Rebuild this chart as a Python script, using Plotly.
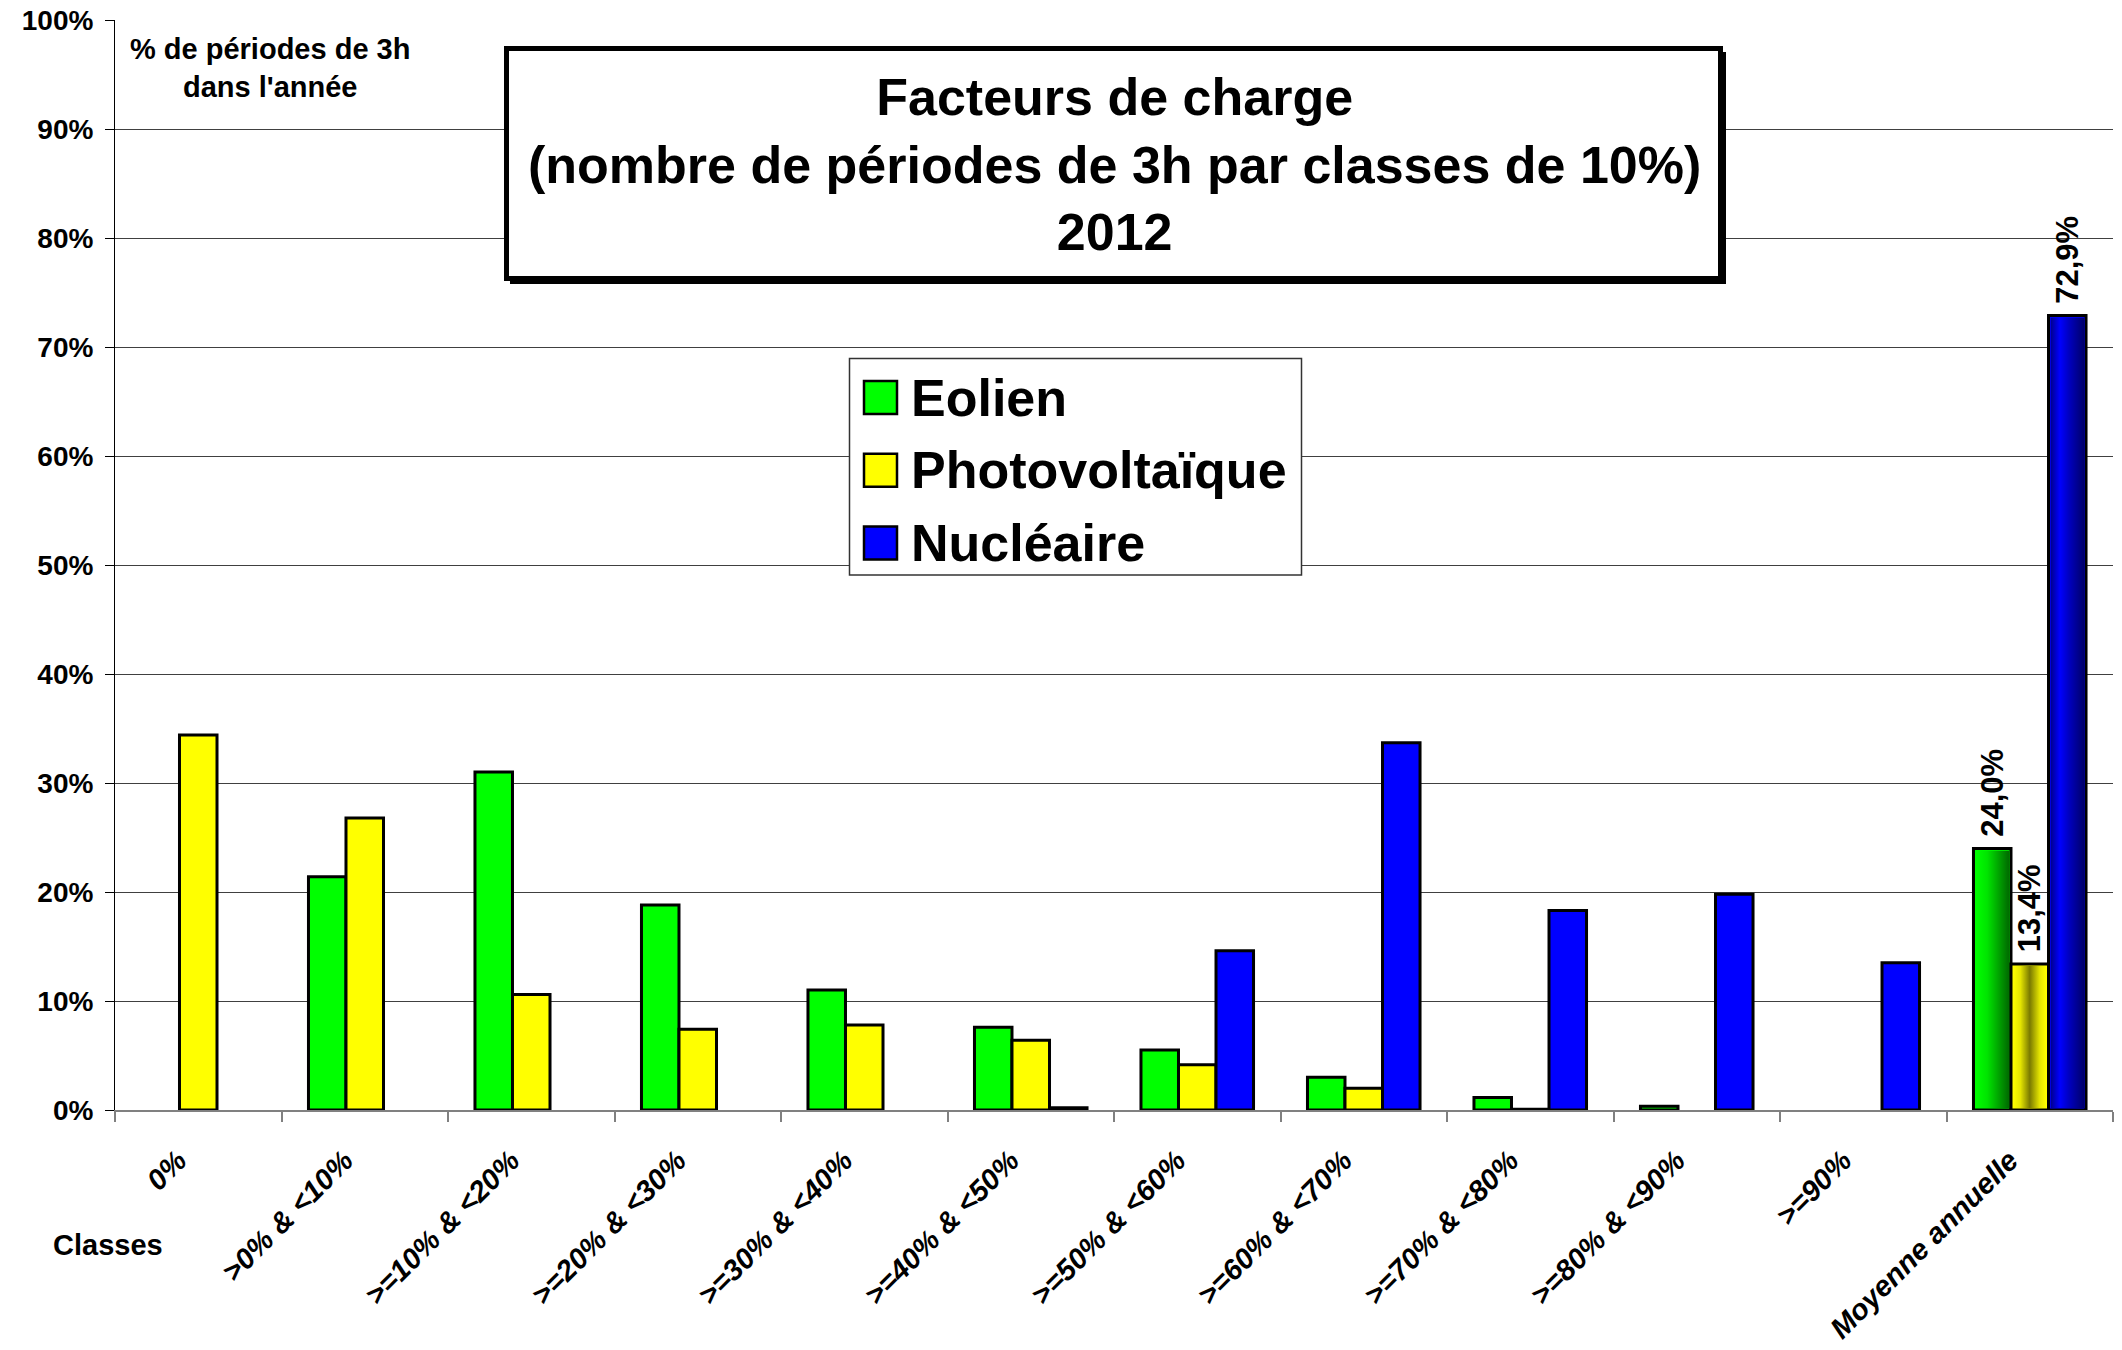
import base64
import plotly.graph_objects as go

# --- data -------------------------------------------------------------------
classes = ["0%", ">0% & <10%", ">=10% & <20%", ">=20% & <30%", ">=30% & <40%",
           ">=40% & <50%", ">=50% & <60%", ">=60% & <70%", ">=70% & <80%",
           ">=80% & <90%", ">=90%", "Moyenne annuelle"]
# None = no bar drawn for that class
eolien = [None, 21.4, 31.0, 18.8, 11.0, 7.6, 5.5, 3.0, 1.15, 0.35, None, 24.0]
photovoltaique = [34.4, 26.8, 10.6, 7.4, 7.8, 6.4, 4.15, 2.0, 0.08, None, None, 13.4]
nucleaire = [None, None, None, None, None, 0.2, 14.6, 33.7, 18.3, 19.8, 13.5, 72.9]
y_ticks = list(range(0, 101, 10))

series_names = ["Eolien", "Photovoltaïque", "Nucléaire"]
series_values = [eolien, photovoltaique, nucleaire]
series_colors = ["#00FF00", "#FFFF00", "#0000FF"]
# horizontal shading used on the annual-average bars
series_gradients = [
    [(0, "#00FF00"), (0.35, "#00E400"), (1, "#006A00")],
    [(0, "#FFFF00"), (0.22, "#E6E600"), (0.5, "#7A7A00"), (0.8, "#E6E600"), (1, "#FFFF00")],
    [(0, "#00008A"), (0.28, "#0000FF"), (0.55, "#0000C0"), (1, "#00006A")],
]

title_text = "Facteurs de charge<br>(nombre de périodes de 3h par classes de 10%)<br>2012"
unit_text = "% de périodes de 3h<br>dans l'année"

# --- geometry ---------------------------------------------------------------
W, H = 2122, 1350
ML, MR, MT, MB = 115, 9, 20, 240
PW, PH = W - ML - MR, H - MT - MB
BARGAP = 0.324
BAR_W = (1 - BARGAP) / 3
FONT = "Liberation Sans, Arial, sans-serif"


def px_x(px):
    return (px - ML) / PW


def px_y(py):
    return (H - MB - py) / PH


def pct_label(v):
    # leading no-break space keeps the rotated label clear of the bar top
    return "\u00a0" + f"{v:.1f}%".replace(".", ",")


def gradient_uri(stops):
    tags = "".join(f'<stop offset="{o}" stop-color="{c}"/>' for o, c in stops)
    svg = ('<svg xmlns="http://www.w3.org/2000/svg" width="100" height="100" '
           'viewBox="0 0 100 100" preserveAspectRatio="none"><defs>'
           f'<linearGradient id="g" x1="0" y1="0" x2="1" y2="0">{tags}</linearGradient>'
           '</defs><rect width="100" height="100" fill="url(#g)"/></svg>')
    return "data:image/svg+xml;base64," + base64.b64encode(svg.encode()).decode()


fig = go.Figure()
last = len(classes) - 1
for k, (name, vals, color) in enumerate(zip(series_names, series_values, series_colors)):
    fig.add_bar(
        x=classes, y=vals, name=name,
        width=BAR_W, offset=-1.5 * BAR_W + k * BAR_W,
        marker=dict(color=color, line=dict(color="black", width=3)),
        text=["" if i != last else pct_label(v) for i, v in enumerate(vals)],
        textposition="outside", textangle=-90, constraintext="none",
        textfont=dict(family=FONT, size=31, color="black", weight="bold"),
        cliponaxis=False, showlegend=False, hoverinfo="skip",
    )

# shaded fill of the annual-average bars, placed inside each bar outline
inset_x = 2.0 / (PW / len(classes))
inset_y = 2.0 / (PH / 100)
images = []
for k, (vals, stops) in enumerate(zip(series_values, series_gradients)):
    v = vals[last]
    left = last - 1.5 * BAR_W + k * BAR_W
    images.append(dict(
        source=gradient_uri(stops), xref="x", yref="y",
        x=left + inset_x, y=v - inset_y,
        sizex=BAR_W - 2 * inset_x, sizey=v - 2 * inset_y,
        xanchor="left", yanchor="top", sizing="stretch", layer="above",
    ))

shapes = []
annotations = []

# title box with drop shadow
shapes.append(dict(type="rect", xref="paper", yref="paper", layer="above",
                   x0=px_x(510), x1=px_x(1726), y0=px_y(284), y1=px_y(52),
                   fillcolor="black", line=dict(width=0)))
shapes.append(dict(type="rect", xref="paper", yref="paper", layer="above",
                   x0=px_x(506.5), x1=px_x(1720.5), y0=px_y(278.5), y1=px_y(48.5),
                   fillcolor="white", line=dict(color="black", width=5)))
annotations.append(dict(text=title_text, xref="paper", yref="paper",
                        x=px_x(1114), y=px_y(164), xanchor="center", yanchor="middle",
                        showarrow=False, align="center",
                        font=dict(family=FONT, size=52, color="black", weight="bold")))

# legend box
shapes.append(dict(type="rect", xref="paper", yref="paper", layer="above",
                   x0=px_x(849.5), x1=px_x(1301.5), y0=px_y(575), y1=px_y(358.5),
                   fillcolor="white", line=dict(color="#333333", width=1.5)))
for j, (name, color) in enumerate(zip(series_names, series_colors)):
    cy = 397.5 + j * 72.8
    shapes.append(dict(type="rect", xref="paper", yref="paper", layer="above",
                       x0=px_x(864), x1=px_x(897), y0=px_y(cy + 16.5), y1=px_y(cy - 16.5),
                       fillcolor=color, line=dict(color="black", width=2.5)))
    annotations.append(dict(text=name, xref="paper", yref="paper",
                            x=px_x(909), y=px_y(cy), xanchor="left", yanchor="middle",
                            showarrow=False,
                            font=dict(family=FONT, size=52, color="black", weight="bold")))

# axis captions
annotations.append(dict(text=unit_text, xref="paper", yref="paper",
                        x=px_x(270), y=px_y(68), xanchor="center", yanchor="middle",
                        showarrow=False, align="center",
                        font=dict(family=FONT, size=29, color="black", weight="bold")))
annotations.append(dict(text="Classes", xref="paper", yref="paper",
                        x=px_x(108), y=px_y(1245), xanchor="center", yanchor="middle",
                        showarrow=False,
                        font=dict(family=FONT, size=29, color="black", weight="bold")))

fig.update_layout(
    width=W, height=H,
    margin=dict(l=ML, r=MR, t=MT, b=MB, pad=0, autoexpand=False),
    paper_bgcolor="white", plot_bgcolor="white",
    barmode="overlay", showlegend=False,
    images=images, shapes=shapes, annotations=annotations,
    font=dict(family=FONT, color="black"),
    xaxis=dict(
        type="category", categoryorder="array", categoryarray=classes,
        range=[-0.5, len(classes) - 0.5], tickson="boundaries",
        ticks="outside", ticklen=10, tickwidth=2, tickcolor="#808080",
        showline=True, linecolor="#808080", linewidth=2,
        showgrid=False, zeroline=False, tickangle=-45,
        ticklabelstandoff=20, ticklabelshift=-20, automargin=False,
        tickfont=dict(family=FONT, size=29, color="black", weight="bold", style="italic"),
        fixedrange=True,
    ),
    yaxis=dict(
        range=[0, 100], tickvals=y_ticks, ticktext=[f"{t}%" for t in y_ticks],
        ticks="outside", ticklen=9, tickwidth=1, tickcolor="black",
        showline=True, linecolor="black", linewidth=1,
        showgrid=True, gridcolor="#404040", gridwidth=1, zeroline=False,
        tickfont=dict(family=FONT, size=28, color="black", weight="bold"),
        ticklabelstandoff=6, automargin=False, fixedrange=True,
    ),
)

fig.write_html("out.html", config={"displayModeBar": False})
